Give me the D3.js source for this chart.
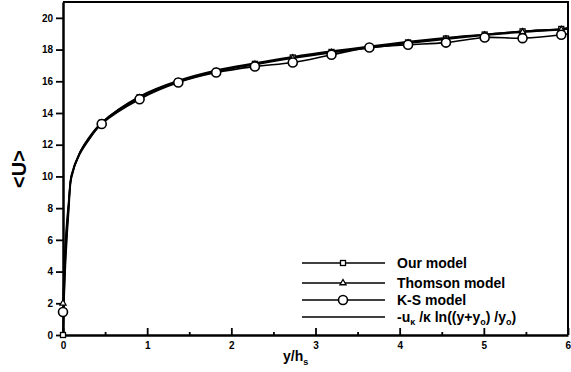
<!DOCTYPE html>
<html>
<head>
<meta charset="utf-8">
<script src="https://cdn.jsdelivr.net/npm/d3@7"></script>
<style>
  body { margin: 0; background: #fff; }
  svg { display: block; font-family: "Liberation Sans", Arial, sans-serif; }
</style>
</head>
<body>
<svg id="chart" width="571" height="372"></svg>
<script>
// y/h_s grid (markers drawn at index 0 and 6..18)
var yh = [0, 0.03, 0.07, 0.1, 0.2, 0.3, 0.46, 0.91, 1.37, 1.82, 2.28, 2.73, 3.19, 3.64, 4.10, 4.55, 5.01, 5.46, 5.92, 6.0];
var ourModel = [0, 5.0, 8.3, 10.0, 11.5, 12.35, 13.4, 15.0, 16.0, 16.65, 17.1, 17.5, 17.85, 18.15, 18.45, 18.7, 18.95, 19.15, 19.3, 19.35];
var thomson  = [2.0, 6.0, 8.6, 10.1, 11.5, 12.3, 13.35, 14.95, 15.95, 16.6, 17.05, 17.45, 17.8, 18.1, 18.4, 18.65, 18.9, 19.1, 19.25, 19.3];
var ksModel  = [1.45, 5.5, 8.4, 10.0, 11.4, 12.25, 13.31, 14.87, 15.92, 16.55, 16.93, 17.18, 17.67, 18.13, 18.3, 18.44, 18.76, 18.72, 18.93, 19.0];
var logLaw   = [0, 4.5, 8.0, 9.9, 11.5, 12.4, 13.4, 15.05, 16.05, 16.7, 17.15, 17.55, 17.9, 18.2, 18.5, 18.75, 18.95, 19.15, 19.3, 19.35];

var xTicks = [0, 1, 2, 3, 4, 5, 6];
var yTicks = [0, 2, 4, 6, 8, 10, 12, 14, 16, 18, 20];
var legendLabels = ["Our model", "Thomson model", "K-S model"];

var svg = d3.select('#chart');
var x = d3.scaleLinear().domain([0, 6]).range([63, 568]);
var y = d3.scaleLinear().domain([0, 21]).range([335, 2]);

// frame
svg.append('path')
    .attr('d', 'M' + x(0) + ',' + y(21) + 'H' + x(6) + 'V' + y(0))
    .attr('fill', 'none').attr('stroke', '#000').attr('stroke-width', 2);

// x axis, ticks pointing up
var xAxis = svg.append('g').attr('transform', 'translate(0,' + y(0) + ')')
    .call(d3.axisBottom(x).tickValues(xTicks).tickFormat(d3.format('d'))
        .tickSizeInner(-7).tickSizeOuter(0).tickPadding(10));
xAxis.selectAll('.tick')
    .each(function(d) {
        if (d >= 6) return;
        d3.select(this).append('line').attr('x1', x(d + 0.5) - x(d)).attr('x2', x(d + 0.5) - x(d))
            .attr('y2', -3).attr('stroke', '#000');
    });
xAxis.selectAll('.tick').filter(function(d) { return d === 6; })
    .select('text').attr('text-anchor', 'start').attr('dx', -3);

var yAxis = svg.append('g').attr('transform', 'translate(' + x(0) + ',0)')
    .call(d3.axisLeft(y).tickValues(yTicks).tickFormat(d3.format('d'))
        .tickSizeInner(7).tickSizeOuter(0).tickPadding(3));

[xAxis, yAxis].forEach(function(a) {
    a.select('.domain').attr('stroke-width', 2.5);
    a.selectAll('.tick line').attr('stroke-width', 1.8);
    a.selectAll('.tick text').style('font-size', '10px').style('font-weight', 'bold').attr('fill', '#000');
});
xAxis.selectAll('.tick text').attr('dy', '0.4em');

// axis titles
var xt = svg.append('text').attr('x', 283).attr('y', 361)
    .style('font-size', '14px').style('font-weight', 'bold').text('y/h');
xt.append('tspan').attr('dy', 4).style('font-size', '9px').text('s');

svg.append('text').attr('transform', 'translate(26,169) rotate(-90)')
    .attr('text-anchor', 'middle')
    .style('font-size', '20px').style('font-weight', 'bold').text('<U>');

// curves
var series = [
    {vals: logLaw, marker: null},
    {vals: ourModel, marker: 'square'},
    {vals: thomson, marker: 'triangle'},
    {vals: ksModel, marker: 'circle'}
];

var line = d3.line().curve(d3.curveCatmullRom.alpha(0.5));

series.forEach(function(s) {
    var pts = yh.map(function(v, i) { return [x(v), y(s.vals[i])]; });
    svg.append('path').attr('d', line(pts))
        .attr('fill', 'none').attr('stroke', '#000').attr('stroke-width', 1.6);
});

function drawMarker(g, type, cx, cy) {
    if (type === 'circle') {
        g.append('circle').attr('cx', cx).attr('cy', cy).attr('r', 4.5)
            .attr('fill', '#fff').attr('stroke', '#000').attr('stroke-width', 1.6);
    } else if (type === 'square') {
        g.append('rect').attr('x', cx - 2.5).attr('y', cy - 2.5).attr('width', 5).attr('height', 5)
            .attr('fill', '#fff').attr('stroke', '#000').attr('stroke-width', 1.3);
    } else if (type === 'triangle') {
        g.append('path').attr('d', d3.symbol(d3.symbolTriangle, 16)())
            .attr('transform', 'translate(' + cx + ',' + cy + ')')
            .attr('fill', '#fff').attr('stroke', '#000').attr('stroke-width', 1.3);
    }
}

var marks = svg.append('g');
series.forEach(function(s) {
    if (!s.marker) return;
    yh.forEach(function(v, i) {
        if (i === 0 || (i >= 6 && i <= 18)) drawMarker(marks, s.marker, x(v), y(s.vals[i]));
    });
});

// legend
var legend = svg.append('g');
var rows = [263, 283, 300, 317];
var markers = ['square', 'triangle', 'circle', null];
rows.forEach(function(ry, i) {
    legend.append('line').attr('x1', 302).attr('x2', 385).attr('y1', ry).attr('y2', ry)
        .attr('stroke', '#000').attr('stroke-width', 1.4);
    if (markers[i]) drawMarker(legend, markers[i], 343, ry);
});
legendLabels.forEach(function(t, i) {
    legend.append('text').attr('x', 397).attr('y', rows[i] + 5)
        .style('font-size', '14px').style('font-weight', 'bold').text(t);
});
var lt = legend.append('text').attr('x', 397).attr('y', rows[3] + 5)
    .style('font-size', '14px').style('font-weight', 'bold');
lt.append('tspan').text('-u');
lt.append('tspan').attr('dy', 3).style('font-size', '9px').text('κ');
lt.append('tspan').attr('dy', -3).text(' /κ ln((y+y');
lt.append('tspan').attr('dy', 3).style('font-size', '9px').text('o');
lt.append('tspan').attr('dy', -3).text(') /y');
lt.append('tspan').attr('dy', 3).style('font-size', '9px').text('o');
lt.append('tspan').attr('dy', -3).text(')');
</script>
</body>
</html>
